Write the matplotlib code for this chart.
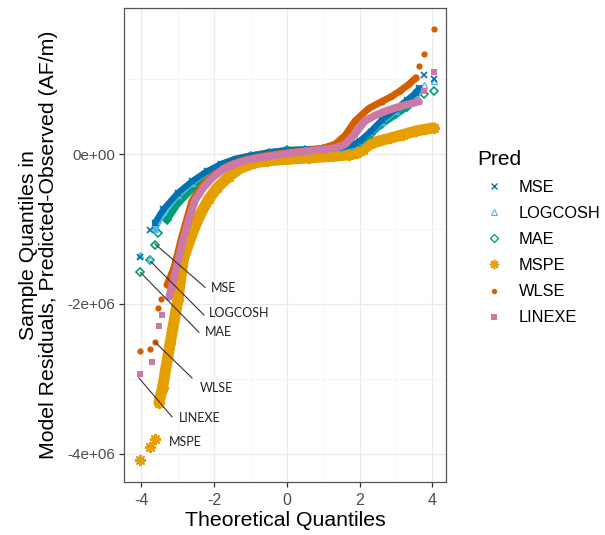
import matplotlib
matplotlib.use("Agg")
import matplotlib.pyplot as plt
from matplotlib.lines import Line2D
import numpy as np

# ---- data (theoretical quantile, sample quantile in units of 1e6 AF/m) ----
mse_x = [-4.03, -3.76, -3.63, -3.4, -3.0, -2.6, -2.2, -1.8, -1.4, -1.0, -0.5, 0.0, 0.5, 1.0, 1.5, 1.8, 2.0, 2.3, 2.6, 3.0, 3.3, 3.55, 3.63, 3.76, 4.03]
mse_y = [-1.38, -1.02, -0.92, -0.74, -0.52, -0.36, -0.23, -0.13, -0.06, -0.02, 0.02, 0.05, 0.06, 0.07, 0.09, 0.12, 0.17, 0.30, 0.45, 0.60, 0.72, 0.82, 0.88, 1.06, 1.00]

logcosh_x = [-4.03, -3.76, -3.63, -3.4, -3.0, -2.6, -2.2, -1.8, -1.4, -1.0, -0.5, 0.0, 0.5, 1.0, 1.5, 1.8, 2.0, 2.3, 2.6, 3.0, 3.3, 3.55, 3.63, 3.76, 4.03]
logcosh_y = [-1.35, -1.40, -1.00, -0.78, -0.55, -0.38, -0.24, -0.14, -0.07, -0.02, 0.02, 0.05, 0.06, 0.07, 0.09, 0.12, 0.17, 0.29, 0.43, 0.58, 0.70, 0.80, 0.86, 0.92, 0.97]

mae_x = [-4.03, -3.76, -3.63, -3.55, -3.3, -3.0, -2.6, -2.2, -1.8, -1.4, -1.0, -0.5, 0.0, 0.5, 1.0, 1.5, 1.8, 2.0, 2.3, 2.6, 3.0, 3.3, 3.55, 3.76, 4.03]
mae_y = [-1.58, -1.42, -1.22, -1.06, -0.88, -0.66, -0.46, -0.31, -0.18, -0.09, -0.03, 0.02, 0.05, 0.06, 0.07, 0.09, 0.12, 0.16, 0.27, 0.40, 0.53, 0.63, 0.72, 0.80, 0.84]

mspe_x = [-4.03, -3.76, -3.63, -3.52, -3.42, -3.21, -3.0, -2.85, -2.6, -2.38, -2.15, -1.92, -1.6, -1.29, -0.9, -0.55, 0.0, 0.6, 1.26, 1.7, 1.92, 2.1, 2.27, 2.5, 2.82, 3.2, 3.56, 3.8, 4.03]
mspe_y = [-4.09, -3.91, -3.81, -3.32, -3.12, -2.52, -1.95, -1.40, -1.05, -0.80, -0.60, -0.45, -0.30, -0.19, -0.12, -0.09, -0.07, -0.05, -0.03, -0.01, 0.01, 0.06, 0.13, 0.17, 0.21, 0.26, 0.31, 0.33, 0.35]

wlse_x = [-4.03, -3.76, -3.63, -3.55, -3.45, -3.3, -3.1, -2.9, -2.61, -2.3, -2.0, -1.6, -1.2, -0.6, 0.0, 0.6, 1.0, 1.32, 1.6, 1.87, 2.25, 2.6, 2.88, 3.1, 3.35, 3.55, 3.63, 3.76, 4.03]
wlse_y = [-2.63, -2.60, -2.51, -2.05, -1.93, -1.75, -1.51, -1.12, -0.62, -0.40, -0.27, -0.15, -0.08, -0.02, 0.02, 0.05, 0.08, 0.13, 0.25, 0.44, 0.61, 0.70, 0.77, 0.84, 0.93, 1.02, 1.17, 1.33, 1.67]

linexe_x = [-4.03, -3.71, -3.52, -3.43, -3.24, -3.05, -2.88, -2.7, -2.53, -2.3, -2.06, -1.75, -1.43, -1.0, -0.49, 0.05, 0.6, 1.0, 1.32, 1.6, 1.87, 2.14, 2.4, 2.69, 3.0, 3.3, 3.63, 3.76, 4.03]
linexe_y = [-2.94, -2.78, -2.29, -2.15, -1.91, -1.55, -1.20, -0.88, -0.62, -0.45, -0.32, -0.20, -0.13, -0.07, -0.03, 0.01, 0.04, 0.06, 0.08, 0.13, 0.27, 0.44, 0.51, 0.57, 0.62, 0.66, 0.70, 0.84, 1.10]

series_names = ["MSE", "LOGCOSH", "MAE", "MSPE", "WLSE", "LINEXE"]
x_ticks = [-4, -2, 0, 2, 4]
y_ticks = [-4, -2, 0]
y_tick_labels = ["-4e+06", "-2e+06", "0e+00"]

# label annotations: (name, point, segment end, text position)
label_names = ["MSE", "LOGCOSH", "MAE", "WLSE", "LINEXE", "MSPE"]
label_pt_x = [-3.63, -3.76, -4.03, -3.63, -4.07, None]
label_pt_y = [-1.20, -1.43, -1.58, -2.51, -2.99, None]
label_seg_x = [-2.25, -2.28, -2.42, -2.61, -3.16, None]
label_seg_y = [-1.78, -2.15, -2.38, -2.99, -3.51, None]
label_tx = [-2.09, -2.14, -2.25, -2.39, -2.97, -3.24]
label_ty = [-1.79, -2.12, -2.38, -3.12, -3.52, -3.85]

# ---- styling ----
star = (8, 2, 0)
styles = {
    "MSE":     dict(color="#0072B2", marker="x", ms=5, mfc="none", mew=1.2, lw=4.5, band=(2, -2)),
    "LOGCOSH": dict(color="#56B4E9", marker="^", ms=5, mfc="none", mew=1.0, lw=4.5, band=(2, -2)),
    "MAE":     dict(color="#009E73", marker="D", ms=4.5, mfc="none", mew=1.2, lw=5, band=(4, -2)),
    "MSPE":    dict(color="#E69F00", marker=star, ms=8, mfc="#E69F00", mew=1.5, lw=8, band=(3, None)),
    "WLSE":    dict(color="#D55E00", marker="o", ms=4.5, mfc="#D55E00", mew=0, lw=5, band=(5, -3)),
    "LINEXE":  dict(color="#CC79A7", marker="s", ms=5, mfc="#CC79A7", mew=0, lw=5.5, band=(4, -2)),
}
data = {
    "MSE": (mse_x, mse_y), "LOGCOSH": (logcosh_x, logcosh_y), "MAE": (mae_x, mae_y),
    "MSPE": (mspe_x, mspe_y), "WLSE": (wlse_x, wlse_y), "LINEXE": (linexe_x, linexe_y),
}

plt.rcParams["font.family"] = ["Liberation Sans", "DejaVu Sans"]
fig = plt.figure(figsize=(6.05, 5.35), dpi=100)
ax = fig.add_axes([0.205, 0.099, 0.532, 0.886])

draw_order = ["MSPE", "MAE", "LOGCOSH", "MSE", "WLSE", "LINEXE"]
for k, name in enumerate(draw_order):
    st = styles[name]
    xs, ys = data[name]
    xs = np.array(xs); ys = np.array(ys) * 1e6
    a, b = st["band"]
    ax.plot(xs, ys, ls="none", marker=st["marker"], ms=st["ms"], mfc=st["mfc"],
            mec=st["color"], mew=st["mew"], color=st["color"], zorder=2 + k * 0.1)
    ax.plot(xs[a:b], ys[a:b], color=st["color"], lw=st["lw"], solid_capstyle="round",
            solid_joinstyle="round", zorder=2.05 + k * 0.1)

# labels with segments
for i, nm in enumerate(label_names):
    if label_pt_x[i] is not None:
        ax.plot([label_pt_x[i], label_seg_x[i]], [label_pt_y[i] * 1e6, label_seg_y[i] * 1e6],
                color="#333333", lw=0.8, zorder=4)
    ax.text(label_tx[i], label_ty[i] * 1e6, nm, fontsize=9, family=["Lato", "DejaVu Sans"],
            ha="left", va="center", color="#222222", zorder=5)

ax.set_xlim(-4.48, 4.37)
ax.set_ylim(-4.38e6, 1.95e6)
ax.set_xticks(x_ticks)
ax.set_xticklabels([str(t) for t in x_ticks])
ax.set_yticks([v * 1e6 for v in y_ticks])
ax.set_yticklabels(y_tick_labels)
ax.set_xticks([-3, -1, 1, 3], minor=True)
ax.set_yticks([-3e6, -1e6, 1e6], minor=True)
ax.grid(which="major", color="#EBEBEB", lw=1.0, zorder=0)
ax.grid(which="minor", color="#F4F4F4", lw=0.6, zorder=0)
ax.set_axisbelow(True)
ax.tick_params(which="major", length=3.5, width=0.9, color="#333333", labelsize=11.5,
               labelcolor="#4D4D4D", pad=3)
ax.tick_params(axis="x", which="major", pad=4.5)
ax.tick_params(axis="y", which="major", labelsize=11)
ax.tick_params(which="minor", length=0)
for sp in ax.spines.values():
    sp.set_color("#555555")
    sp.set_linewidth(0.9)

ax.set_xlabel("Theoretical Quantiles", fontsize=15.3, labelpad=2)
ax.set_ylabel("Sample Quantiles in\nModel Residuals, Predicted-Observed (AF/m)", fontsize=15.3,
              linespacing=1.05)
ax.yaxis.set_label_coords(-0.205, 0.5)

# legend
handles = []
for name in series_names:
    st = styles[name]
    handles.append(Line2D([], [], ls="none", marker=st["marker"], ms=st["ms"] * 0.85,
                          mfc=st["mfc"], mec=st["color"], mew=st["mew"] * 0.8, color=st["color"]))
leg = fig.legend(handles, series_names, title="Pred", loc="upper left",
                 bbox_to_anchor=(0.765, 0.748), frameon=False, fontsize=11.8,
                 title_fontsize=15, handlelength=2.0, handletextpad=0.5, labelspacing=0.68)
leg._legend_box.align = "left"

fig.savefig("out.png", dpi=100)
